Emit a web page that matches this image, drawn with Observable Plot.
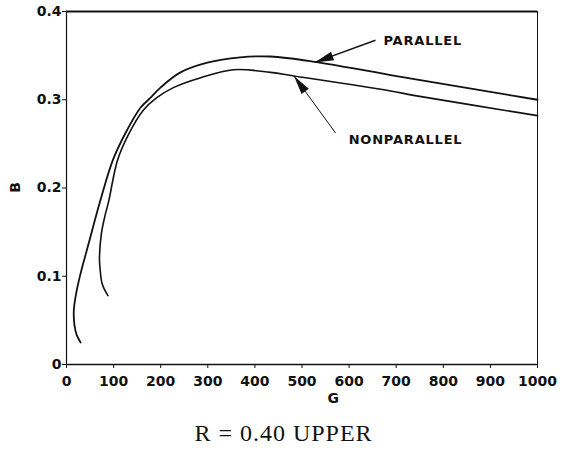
<!DOCTYPE html>
<html>
<head>
<meta charset="utf-8">
<script src="https://cdn.jsdelivr.net/npm/d3@7"></script>
<script src="https://cdn.jsdelivr.net/npm/@observablehq/plot@0.6"></script>
<style>
  html, body { margin: 0; padding: 0; background: #fff; }
  #chart svg { display: block; }
  #caption { font-family: "Liberation Serif", "Times New Roman", serif; font-size: 24px; letter-spacing: 1px; text-align: center; width: 567px; margin-top: 15px; color: #111; }
</style>
</head>
<body>
<div id="chart"></div>
<div id="caption">R = 0.40 UPPER</div>
<script>
// ---- data ----
const parallelG = [30, 22, 17, 15.5, 19, 28, 47, 72, 98, 125, 157, 178, 200, 242, 299, 369, 433, 527, 688, 1000];
const parallelB = [0.025, 0.033, 0.044, 0.061, 0.076, 0.099, 0.137, 0.186, 0.231, 0.262, 0.291, 0.302, 0.314, 0.331, 0.342, 0.348, 0.349, 0.343, 0.328, 0.300];
const nonparallelG = [88, 76, 71, 70, 74, 81, 90, 108, 132, 163, 191, 228, 285, 355, 433, 483, 688, 737, 1000];
const nonparallelB = [0.078, 0.091, 0.110, 0.121, 0.148, 0.167, 0.186, 0.231, 0.261, 0.288, 0.302, 0.314, 0.325, 0.334, 0.331, 0.327, 0.310, 0.305, 0.282];
const xTicks = [0, 100, 200, 300, 400, 500, 600, 700, 800, 900, 1000];
const yTicks = [0, 0.1, 0.2, 0.3, 0.4];
const yTickLabels = ["0", "0.1", "0.2", "0.3", "0.4"];
const labelNames = ["PARALLEL", "NONPARALLEL"];
const labelG = [673, 599];
const labelB = [0.3668, 0.255];
const arrowStartG = [656, 571];
const arrowStartB = [0.3674, 0.2625];
const arrowTipG = [527, 483];
const arrowTipB = [0.3423, 0.327];
const arrowWidths = [1.5, 1];

// ---- layout ----
const W = 567, H = 405, mL = 66, mR = 30, mT = 11, mB = 41;
const px = d3.scaleLinear([0, 1000], [mL, W - mR]);
const py = d3.scaleLinear([0, 0.4], [H - mB, mT]);
const SANS = "'DejaVu Sans', Verdana, sans-serif";

const parallel = parallelG.map((g, i) => ({G: g, B: parallelB[i]}));
const nonparallel = nonparallelG.map((g, i) => ({G: g, B: nonparallelB[i]}));
const labels = labelNames.map((t, i) => ({t, G: labelG[i], B: labelB[i]}));
const arrows = labelNames.map((t, i) => ({x1: arrowStartG[i], y1: arrowStartB[i], x2: arrowTipG[i], y2: arrowTipB[i], w: arrowWidths[i]}));

function headSymbol(a) {
  const dx = px(a.x1) - px(a.x2), dy = py(a.y1) - py(a.y2);
  const len = Math.hypot(dx, dy);
  const ux = dx / len, uy = dy / len, nx = -uy, ny = ux;
  const L = 19, hw = 4.5;
  return {
    draw(ctx) {
      ctx.moveTo(0, 0);
      ctx.lineTo(L * ux + hw * nx, L * uy + hw * ny);
      ctx.lineTo(L * ux - hw * nx, L * uy - hw * ny);
      ctx.closePath();
    }
  };
}

const plot = Plot.plot({
  width: W, height: H,
  marginLeft: mL, marginRight: mR, marginTop: mT, marginBottom: mB,
  style: `font-family: ${SANS}; font-size: 14px; font-weight: bold; color: #111; background: #fff;`,
  x: {domain: [0, 1000], ticks: xTicks, tickSize: 4, tickPadding: 8, label: null, tickFormat: d => String(d)},
  y: {domain: [0, 0.4], ticks: yTicks, tickSize: 4, tickPadding: 1, label: null, tickFormat: d => yTickLabels[yTicks.indexOf(d)]},
  marks: [
    Plot.ruleX([0], {stroke: "#111", strokeWidth: 1.2}),
    Plot.ruleX([1000], {stroke: "#111", strokeWidth: 1}),
    Plot.ruleY([0], {stroke: "#111", strokeWidth: 1.6}),
    Plot.ruleY([0.4], {stroke: "#111", strokeWidth: 2.2}),
    Plot.line(parallel, {x: "G", y: "B", curve: "catmull-rom", stroke: "#111", strokeWidth: 1.8}),
    Plot.line(nonparallel, {x: "G", y: "B", curve: "catmull-rom", stroke: "#111", strokeWidth: 1.6}),
    Plot.link(arrows, {x1: "x1", y1: "y1", x2: "x2", y2: "y2", stroke: "#111", strokeWidth: "w"}),
    Plot.dot([arrows[0]], {x: "x2", y: "y2", symbol: headSymbol(arrows[0]), fill: "#111", stroke: null, r: 5}),
    Plot.dot([arrows[1]], {x: "x2", y: "y2", symbol: headSymbol(arrows[1]), fill: "#111", stroke: null, r: 5}),
    Plot.text(labels, {x: "G", y: "B", text: "t", textAnchor: "start", fontSize: 13, fontWeight: "bold", fill: "#111"}),
    Plot.text(["G"], {x: 567, y: 0, dy: 34, text: d => d, fontSize: 14, fontWeight: "bold", fill: "#111"}),
    Plot.text(["B"], {x: 0, y: 0.201, dx: -51, text: d => d, rotate: -90, fontSize: 14, fontWeight: "bold", fill: "#111"})
  ]
});
d3.select(plot).selectAll("g[aria-label='text'] text").attr("letter-spacing", "0.8px");
document.getElementById("chart").appendChild(plot);
</script>
</body>
</html>
